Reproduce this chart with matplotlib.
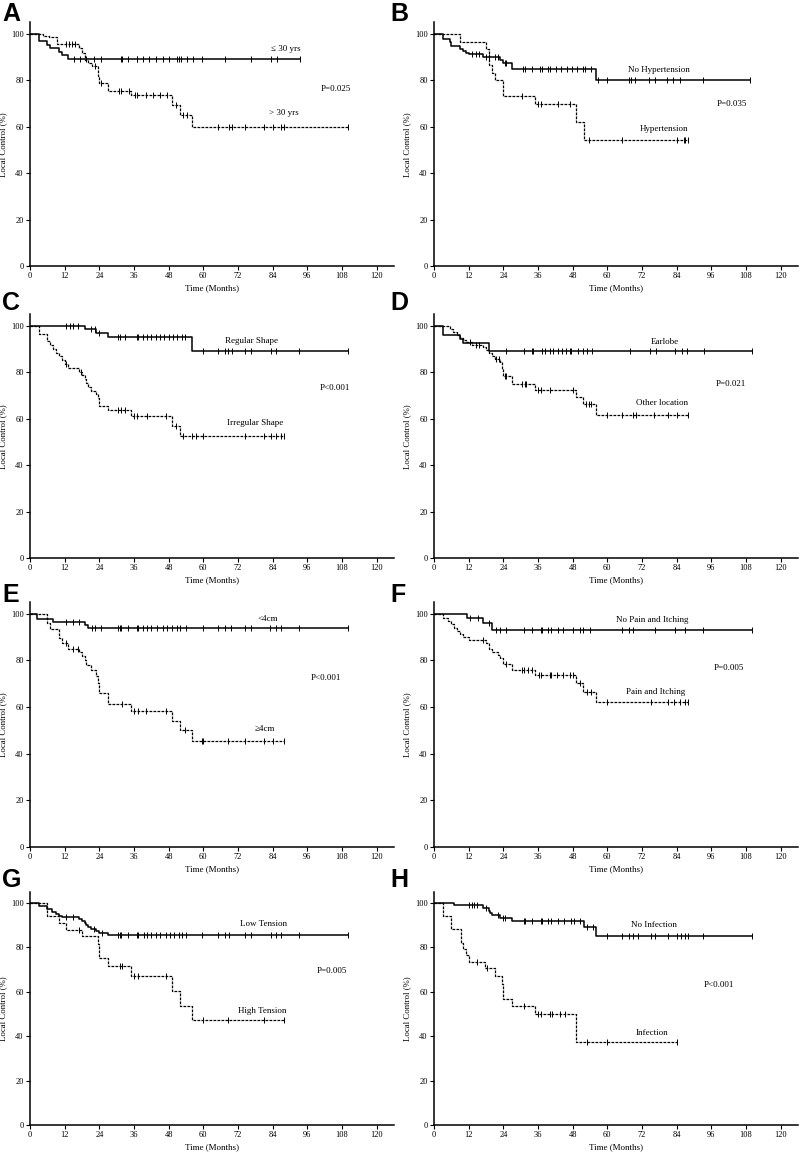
import numpy as np
import matplotlib
matplotlib.use('Agg')
import matplotlib.pyplot as plt

plt.rcParams['font.family'] = ['Liberation Serif', 'DejaVu Serif']

# ---- data: drop times (months), survival after drop (%), censor times ----
# A: age
a_lo_drop = [3, 6, 7, 10, 11, 13]
a_lo_surv = [96.9, 95.4, 93.8, 92.3, 90.8, 89.2]
a_lo_cens = [15.2, 17.3, 19.4, 22.2, 24.5, 31.4, 32.0, 33.8, 36.9, 37.2, 39.0, 41.1, 43.6, 45.9, 48.0,
             50.8, 51.7, 52.4, 54.5, 56.5, 59.7, 67.6, 76.6, 83.3, 85.4, 93.5]
a_hi_drop = [4.5, 6.5, 9.5, 17, 18, 19, 20, 21.5, 23.5, 24, 27, 35, 49, 52, 56]
a_hi_surv = [99, 98.5, 95.5, 94, 92, 89, 87.5, 86, 82, 79, 75.5, 73.5, 69.4, 65.2, 60.1]
a_hi_cens = [12.5, 13.5, 14.5, 15.5, 22.5, 24.5, 30.9, 31.5, 34.2, 36.5, 37.2, 40, 42.5, 45, 47.5,
             50.5, 53, 54.5, 65, 69, 70, 74.5, 81, 84, 87, 88, 110]

# B: hypertension
b_no_drop = [3, 5.4, 6, 9, 10, 11, 12, 17, 23, 24, 27, 56]
b_no_surv = [98, 96.5, 95, 93.5, 92.5, 92, 91.2, 90, 89, 87.5, 84.8, 80.3]
b_no_cens = [13, 14.5, 15.5, 18, 19, 21, 22, 24.5, 25, 30.9, 31.5, 33.8, 36.7, 37.3, 39.6, 40.2, 42.1,
             44.0, 45.9, 47.7, 49.4, 51.5, 52.1, 54.4, 56.6, 59.8, 67.5, 68.3, 69.7, 74.3, 76.4, 80.7,
             82.7, 85.3, 93.0, 109.3]
b_yes_drop = [9, 18, 19, 20, 21, 24, 35, 49, 52]
b_yes_surv = [96.7, 93.4, 86.7, 83.4, 80, 73.3, 69.8, 62, 54.3]
b_yes_cens = [30.5, 36, 37, 43, 47, 53.5, 65, 84, 86.5, 87, 88]

# C: shape
c_reg_drop = [19, 23, 27, 56]
c_reg_surv = [98.6, 96.9, 95.4, 89.4]
c_reg_cens = [12.5, 14, 15, 16.5, 21, 22.5, 24, 30.5, 31, 33, 37, 37.5, 39, 40.5, 42, 43.5, 45, 46.5,
              48, 49.5, 51, 52.5, 53.5, 60, 65, 67.5, 68.5, 70, 74.5, 76.5, 83.5, 85, 93, 110]
c_irr_drop = [3, 6, 7, 8, 9, 10, 11, 12, 13, 17, 18, 19, 19.5, 20, 21, 23, 23.5, 24, 27, 35, 49, 52]
c_irr_surv = [96.7, 93.4, 91.8, 90.2, 88.5, 86.9, 85.2, 83.6, 82, 80.3, 78.7, 77, 75.4, 73.8, 72.1,
              70.5, 68.8, 65.6, 63.7, 61, 57, 52.6]
c_irr_cens = [12.5, 17.5, 30.5, 31.5, 33, 36, 37, 40.5, 47, 50.5, 53, 56, 57.5, 60, 74.5, 81, 83.5,
              85, 87, 88]

# D: location
d_ear_drop = [3, 9, 10, 19]
d_ear_surv = [96.3, 94.5, 92.7, 89.1]
d_ear_cens = [24.9, 31.0, 33.9, 34.4, 37.4, 38.5, 40.2, 41.2, 42.9, 44.4, 45.8, 47.0, 47.5, 49.9, 51.6,
              52.8, 54.7, 67.8, 74.8, 76.9, 83.5, 85.8, 87.5, 93.6, 110.1]
d_oth_drop = [5.5, 6.5, 8, 9, 10, 11, 13, 17, 18, 19, 20, 21, 23, 23.5, 24, 27, 35, 49, 51.5, 56]
d_oth_surv = [98.8, 97.5, 96.2, 95, 93.8, 93, 92, 90.8, 89.5, 88.3, 87.1, 85.8, 84.6, 81.5, 78.6,
              74.8, 72.4, 69.4, 66.2, 61.7]
d_oth_cens = [12.5, 14.5, 15.5, 21.5, 22.5, 24.5, 25, 30.5, 31.5, 32, 36, 37, 40, 48, 52.5, 53.5,
              54.5, 60, 65, 69, 70, 76, 81, 84, 88]

# E: size
e_small_drop = [2.5, 8, 19, 20]
e_small_surv = [97.6, 96.4, 95, 93.7]
e_small_cens = [12.5, 15, 17, 21.5, 22.5, 24.5, 30.5, 31, 31.5, 34, 37, 37.5, 39, 40.5, 42, 44, 46,
                47.5, 49, 51, 52, 54, 60, 65, 67.5, 69.5, 74.5, 76.5, 83, 85, 87, 93, 110]
e_big_drop = [6, 7, 10, 11, 13, 17, 18, 19, 19.5, 21, 23, 23.5, 24, 27, 35, 49, 52, 56]
e_big_surv = [96, 93.6, 89.7, 87.5, 85, 83.5, 82, 80, 78, 75.8, 73.5, 70.4, 66.2, 61.2, 58.5, 54.2,
              50, 45.5]
e_big_cens = [12.5, 15, 16.5, 32, 36, 37.5, 40, 47, 53.5, 59.5, 60, 68.5, 74.5, 81, 84, 88]

# F: pain and itching
f_no_drop = [11.5, 17, 20]
f_no_surv = [98.1, 96.1, 93.2]
f_no_cens = [12.6, 15.3, 19.1, 21.5, 23, 25, 31, 34, 37, 37.5, 39.5, 40.5, 43, 44.5, 48, 50.5, 51.5,
             54, 65, 67.5, 69, 76.5, 83.5, 87, 93, 110]
f_yes_drop = [3, 5, 6, 7, 8, 9, 10, 12, 18, 19, 20, 22, 23, 24, 27, 35, 49, 51.5, 56]
f_yes_surv = [98, 97, 95.5, 93.8, 92.5, 91.5, 90.2, 88.8, 87.5, 85, 83.4, 82.5, 80.8, 78.3, 75.7,
              73.9, 70.4, 66.6, 62]
f_yes_cens = [17, 25, 30.5, 31, 32.5, 34, 36.5, 37, 40, 40.5, 42.5, 44.5, 47, 48, 50.5, 53, 54.5,
              60, 75, 81, 83, 85, 87, 88]

# G: tension
g_low_drop = [3, 6, 7.5, 9, 10, 11, 17, 18, 19, 19.5, 20, 21, 23, 24, 27]
g_low_surv = [98.6, 97.3, 96, 95, 94.4, 93.7, 93, 92, 91, 90, 89.2, 88.5, 87.5, 86.5, 85.4]
g_low_cens = [12.5, 15, 22, 25, 30.5, 31, 31.5, 34, 37, 37.5, 39.5, 40.5, 42, 43.5, 45, 47, 48.5, 50,
              51.5, 52.5, 54, 59.5, 65, 67.5, 69, 74.5, 76.5, 83.5, 85, 87, 93, 110]
g_high_drop = [6, 10, 12.5, 18, 23.5, 24, 27, 35, 49, 52, 56]
g_high_surv = [94.2, 91.1, 88.1, 85.1, 81.5, 75.2, 71.5, 67.2, 60.4, 53.8, 47.1]
g_high_cens = [17, 31, 32, 36, 37.5, 47, 60, 68.5, 81, 88]

# H: infection
h_no_drop = [7, 17, 19, 19.5, 20, 23, 27, 52, 56]
h_no_surv = [99.1, 98, 96.5, 95.5, 94.8, 93.5, 92, 89.2, 85.2]
h_no_cens = [12, 13, 14, 15, 18, 22, 24, 24.5, 31, 31.5, 34, 37, 37.5, 39.5, 40.5, 43, 45, 47.5, 48.5,
             50.5, 53, 55, 60, 65, 67.5, 69, 70.5, 75, 76.5, 81, 84, 85.5, 87, 88, 93, 110]
h_yes_drop = [3, 6, 9.5, 10, 11, 12, 17.5, 21, 23.5, 24, 27, 35, 49]
h_yes_surv = [94, 88.2, 82, 79.4, 76.5, 73.5, 70.6, 67.2, 63.5, 57, 53.6, 50, 37.5]
h_yes_cens = [15, 18.5, 31, 36, 37, 40, 41, 43.5, 45.5, 53, 60, 84]

panel_letters = ['A', 'B', 'C', 'D', 'E', 'F', 'G', 'H']
solid_curves = [(a_lo_drop, a_lo_surv, a_lo_cens), (b_no_drop, b_no_surv, b_no_cens),
                (c_reg_drop, c_reg_surv, c_reg_cens), (d_ear_drop, d_ear_surv, d_ear_cens),
                (e_small_drop, e_small_surv, e_small_cens), (f_no_drop, f_no_surv, f_no_cens),
                (g_low_drop, g_low_surv, g_low_cens), (h_no_drop, h_no_surv, h_no_cens)]
dashed_curves = [(a_hi_drop, a_hi_surv, a_hi_cens), (b_yes_drop, b_yes_surv, b_yes_cens),
                 (c_irr_drop, c_irr_surv, c_irr_cens), (d_oth_drop, d_oth_surv, d_oth_cens),
                 (e_big_drop, e_big_surv, e_big_cens), (f_yes_drop, f_yes_surv, f_yes_cens),
                 (g_high_drop, g_high_surv, g_high_cens), (h_yes_drop, h_yes_surv, h_yes_cens)]
# (text, x, y) for upper label, p value, lower label
top_labels = [('≤ 30 yrs', 88.5, 93.5), ('No Hypertension', 77.8, 84.6), ('Regular Shape', 76.7, 93.5),
              ('Earlobe', 79.8, 93.1), ('<4cm', 82.3, 97.6), ('No Pain and Itching', 75.4, 97.4),
              ('Low Tension', 80.8, 90.4), ('No Infection', 76.2, 90.0)]
p_labels = [('P=0.025', 106, 76.5), ('P=0.035', 103.3, 69.9), ('P<0.001', 105.6, 73.3),
            ('P=0.021', 102.6, 75.0), ('P<0.001', 102.6, 72.4), ('P=0.005', 102, 76.9),
            ('P=0.005', 104.6, 69.3), ('P<0.001', 98.8, 63.3)]
bottom_labels = [('> 30 yrs', 88, 65.9), ('Hypertension', 79.5, 59), ('Irregular Shape', 77.9, 58.3),
                 ('Other location', 79, 66.9), ('≥4cm', 81.2, 50.5), ('Pain and Itching', 76.6, 66.5),
                 ('High Tension', 80.2, 51.5), ('Infection', 75.4, 41.6)]


def km_plot(ax, drop, surv, cens, ls, lw):
    t = [0] + drop + [cens[-1]]
    s = [100] + surv + [surv[-1]]
    ax.step(t, s, where='post', color='k', lw=lw, ls=ls)
    lvl = np.array(s)[np.searchsorted(t, cens, side='right') - 1]
    ax.plot(cens, lvl, ls='none', marker='|', ms=4.5, mew=0.7, color='k')


W, H = 800, 1153
fig = plt.figure(figsize=(W / 100, H / 100), dpi=100)

row_bottom = [266, 558, 847, 1125]
row_height = [243.6, 243.6, 245, 233]
col_left = [30, 434]
col_width = 364
letter_pos = [(2, 2), (390, 2), (2, 291), (390, 291), (2, 583), (390, 583), (2, 868), (390, 868)]

for i in range(8):
    r, c = divmod(i, 2)
    ax = fig.add_axes([col_left[c] / W, (H - row_bottom[r]) / H, col_width / W, row_height[r] / H])
    km_plot(ax, *solid_curves[i], ls='-', lw=1.1)
    km_plot(ax, *dashed_curves[i], ls=(0, (2.2, 1.0)), lw=0.9)
    ax.set_xlim(0, 126)
    ax.set_ylim(0, 105)
    ax.set_xticks(np.arange(0, 121, 12))
    ax.set_yticks(np.arange(0, 101, 20))
    ax.spines['top'].set_visible(False)
    ax.spines['right'].set_visible(False)
    ax.spines['left'].set_linewidth(1.1)
    ax.spines['bottom'].set_linewidth(1.1)
    ax.tick_params(labelsize=6, length=3, width=0.8, pad=1.5)
    ax.set_xlabel('Time (Months)', fontsize=6.5, labelpad=3)
    ax.set_ylabel('Local Control (%)', fontsize=6.3)
    ax.yaxis.set_label_coords(-0.062, 0.5)
    for txt, x, y in (top_labels[i], p_labels[i], bottom_labels[i]):
        ax.text(x, y, txt, fontsize=6.5, ha='center', va='center')
    lx, ly = letter_pos[i]
    fig.text(lx / W, 1 - ly / H, panel_letters[i], fontsize=18, fontweight='bold',
             family=['Liberation Sans', 'DejaVu Sans'], ha='left', va='top')

fig.savefig('out.png', dpi=100)
